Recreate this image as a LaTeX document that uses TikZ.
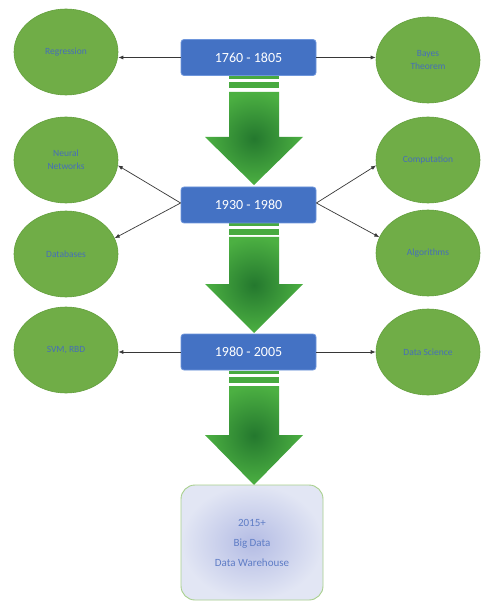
\documentclass[tikz,border=0pt]{standalone}
\usepackage{fontspec}
\setmainfont{Carlito}
\usetikzlibrary{shapes.geometric,arrows.meta}
\definecolor{boxblue}{RGB}{68,114,196}
\definecolor{boxedge}{RGB}{110,150,220}
\definecolor{ellgreen}{RGB}{112,173,71}
\definecolor{elledge}{RGB}{100,160,62}
\definecolor{elltext}{RGB}{70,110,185}
\definecolor{arrdark}{RGB}{36,120,46}
\definecolor{arrlight}{RGB}{76,176,66}
\definecolor{stripe}{RGB}{72,170,64}
\definecolor{finin}{RGB}{180,188,228}
\definecolor{finout}{RGB}{226,230,244}
\definecolor{finedge}{RGB}{168,208,141}
\definecolor{fintext}{RGB}{95,125,198}
\definecolor{conn}{RGB}{55,55,55}
\tikzset{
  erabox/.style={rectangle, rounded corners=3pt, fill=boxblue, draw=boxedge, line width=0.8pt,
    minimum width=135pt, minimum height=36pt, text=white, font=\fontsize{14}{16}\selectfont},
  topic/.style={ellipse, fill=ellgreen, draw=elledge, line width=0.6pt, minimum width=104pt,
    minimum height=86pt, inner sep=0pt, text=elltext, align=center, font=\fontsize{9.5}{13}\selectfont},
  link/.style={draw=conn, line width=0.7pt, -{Latex[length=5pt,width=4pt]}},
  bigarrow/.style={inner color=arrdark, outer color=arrlight},
  stripefill/.style={fill=stripe}
}
\newcommand{\blockarrow}[4]{% #1 stripe top, #2 shaft top, #3 head start, #4 tip
  \fill[stripefill] (229,#1) rectangle (279,#1+3);
  \fill[stripefill] (229,#1+6) rectangle (279,#1+12);
  \shade[bigarrow] (229,#2) -- (279,#2) -- (279,#3) -- (303,#3) -- (254,#4) -- (205,#3) -- (229,#3) -- cycle;
}
\begin{document}
\begin{tikzpicture}[x=1pt,y=-1pt]
\useasboundingbox (0,0) rectangle (481,601);
\fill[white] (0,0) rectangle (481,601);

% green block arrows
\blockarrow{76}{92}{137}{185}
\blockarrow{223}{237}{284}{333}
\blockarrow{371}{386}{435}{485}

% era boxes
\node[erabox] (b1) at (248.5,57.5) {1760 - 1805};
\node[erabox] (b2) at (248.5,205) {1930 - 1980};
\node[erabox] (b3) at (248.5,352) {1980 - 2005};

% topics
\node[topic] (reg) at (66,52) {Regression};
\node[topic] (bay) at (428,60) {Bayes\\Theorem};
\node[topic] (nn) at (66,160) {Neural\\Networks};
\node[topic] (comp) at (428,160) {Computation};
\node[topic] (db) at (66,254) {Databases};
\node[topic] (alg) at (428,253) {Algorithms};
\node[topic] (svm) at (66,350) {SVM, RBD};
\node[topic] (ds) at (428,352) {Data Science};

% final box
\shade[inner color=finin, outer color=finout, draw=finedge, line width=0.9pt, rounded corners=14pt]
  (181,485) rectangle (323,600);
\node[text=fintext, align=center, font=\fontsize{11}{20}\selectfont] (fin) at (252,542.5)
  {2015+\\Big Data\\Data Warehouse};

% connectors
\draw[link] (b1.west) -- (reg.east |- b1.west);
\draw[link] (b1.east) -- (bay.west |- b1.east);
\draw[link] ([yshift=2pt]b2.west) -- (nn.-6);
\draw[link] ([yshift=2pt]b2.west) -- (db.18);
\draw[link] ([yshift=2pt]b2.east) -- (comp.186);
\draw[link] ([yshift=2pt]b2.east) -- (alg.162);
\draw[link] (b3.west) -- (svm.east |- b3.west);
\draw[link] (b3.east) -- (ds.west |- b3.east);
\end{tikzpicture}
\end{document}
